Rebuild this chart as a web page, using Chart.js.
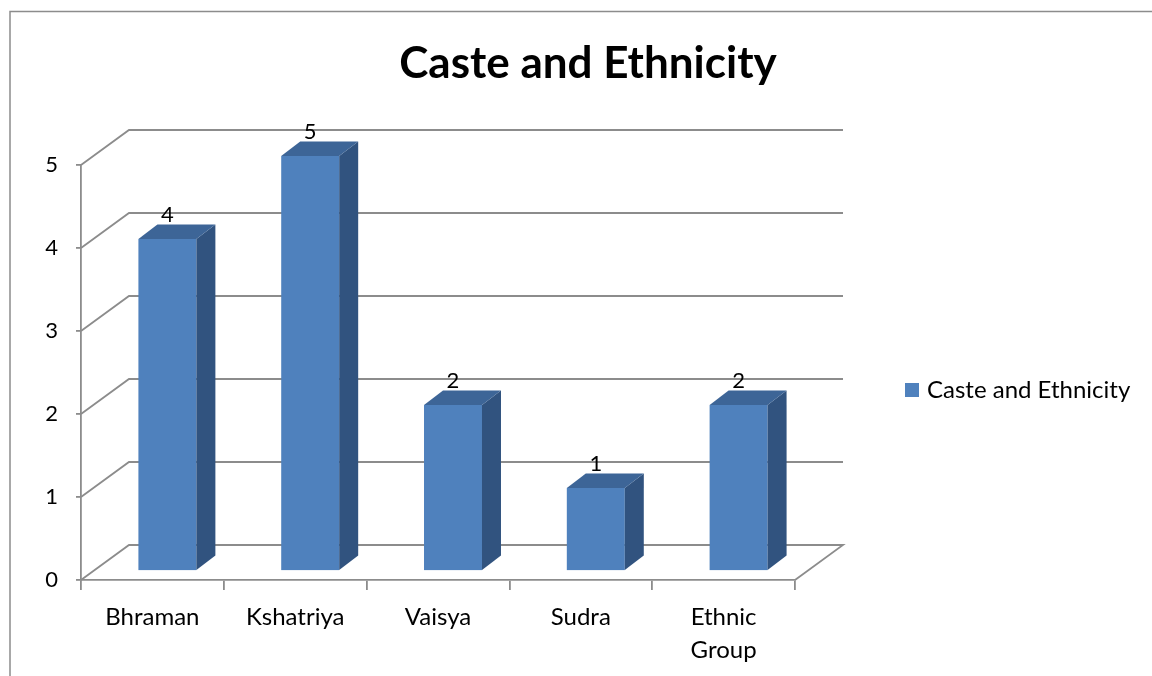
<!DOCTYPE html>
<html lang="en">
<head>
    <meta charset="UTF-8">
    <title>Caste and Ethnicity</title>
    <style>
        body { margin: 0; background: #fff; }
        .chart-container { width: 1152px; height: 676px; }
    </style>
</head>
<body>
    <div class="chart-container">
        <canvas id="casteChart" width="1152" height="676"></canvas>
    </div>

    <script src="https://cdn.jsdelivr.net/npm/chart.js"></script>
    <script>
        // Chart data
        const categories = ['Bhraman', 'Kshatriya', 'Vaisya', 'Sudra', ['Ethnic', 'Group']];
        const values = [4, 5, 2, 1, 2];
        const yTicks = [0, 1, 2, 3, 4, 5];
        const seriesName = 'Caste and Ethnicity';
        const chartTitle = 'Caste and Ethnicity';

        const fontFamily = 'Lato, "Open Sans", sans-serif';
        const lineGray = '#8c8c8c';

        // 3D offsets: back wall depth, bar front plane and bar depth
        const wallDepth = { dx: 48, dy: -35 };
        const barFront = { dx: 15, dy: -9 };
        const barDepth = { dx: 19, dy: -14.5 };

        const colors = { front: '#4f81bd', side: '#31537f', top: '#3d6597' };

        function poly(ctx, pts, fill) {
            ctx.beginPath();
            ctx.moveTo(pts[0][0], pts[0][1]);
            for (let i = 1; i < pts.length; i++) ctx.lineTo(pts[i][0], pts[i][1]);
            ctx.closePath();
            ctx.fillStyle = fill;
            ctx.fill();
        }

        const bars3d = {
            id: 'bars3d',
            beforeDraw(chart) {
                const { ctx, chartArea: a } = chart;
                const y = chart.scales.y;
                ctx.save();
                ctx.fillStyle = '#fff';
                ctx.fillRect(0, 0, chart.width, chart.height);

                // outer frame
                ctx.strokeStyle = lineGray;
                ctx.lineWidth = 1.5;
                ctx.strokeRect(10, 11.5, chart.width + 20, chart.height + 20);

                // side wall, back wall grid and floor
                ctx.lineWidth = 1.8;
                yTicks.forEach(v => {
                    const py = y.getPixelForValue(v);
                    ctx.beginPath();
                    ctx.moveTo(a.left, py);
                    ctx.lineTo(a.left + wallDepth.dx, py + wallDepth.dy);
                    ctx.lineTo(a.right + wallDepth.dx, py + wallDepth.dy);
                    if (v === 0) ctx.lineTo(a.right, py);
                    ctx.stroke();
                });
                ctx.restore();
            },
            afterDatasetsDraw(chart) {
                const ctx = chart.ctx;
                const meta = chart.getDatasetMeta(0);
                ctx.save();
                meta.data.forEach((bar, i) => {
                    const w = bar.width;
                    const x0 = bar.x - w / 2 + barFront.dx;
                    const x1 = x0 + w;
                    const yt = bar.y + barFront.dy;
                    const yb = bar.base + barFront.dy;

                    ctx.fillStyle = colors.front;
                    ctx.fillRect(x0, yt, w, yb - yt);
                    poly(ctx, [[x1, yt], [x1 + barDepth.dx, yt + barDepth.dy],
                               [x1 + barDepth.dx, yb + barDepth.dy], [x1, yb]], colors.side);
                    poly(ctx, [[x0, yt], [x0 + barDepth.dx, yt + barDepth.dy],
                               [x1 + barDepth.dx, yt + barDepth.dy], [x1, yt]], colors.top);

                    // value label
                    ctx.fillStyle = '#000';
                    ctx.font = '22px ' + fontFamily;
                    ctx.textAlign = 'center';
                    ctx.textBaseline = 'alphabetic';
                    ctx.fillText(String(values[i]), (x0 + x1) / 2, yt + barDepth.dy - 3);
                });
                ctx.restore();
            },
            afterDraw(chart) {
                const ctx = chart.ctx;
                ctx.save();
                // title
                ctx.fillStyle = '#000';
                ctx.font = 'bold 44px ' + fontFamily;
                ctx.textAlign = 'center';
                ctx.textBaseline = 'middle';
                ctx.fillText(chartTitle, 588, 64);

                // legend
                ctx.fillStyle = colors.front;
                ctx.fillRect(905, 383, 14, 14);
                ctx.fillStyle = '#000';
                ctx.font = '24px ' + fontFamily;
                ctx.textAlign = 'left';
                ctx.fillText(seriesName, 927, 390);
                ctx.restore();
            }
        };

        new Chart(document.getElementById('casteChart'), {
            type: 'bar',
            data: {
                labels: categories,
                datasets: [{
                    label: seriesName,
                    data: values,
                    backgroundColor: 'rgba(0,0,0,0)',
                    borderWidth: 0,
                    categoryPercentage: 1,
                    barPercentage: 0.406
                }]
            },
            options: {
                responsive: false,
                animation: false,
                events: [],
                layout: { padding: { top: 165, right: 357, bottom: 0, left: 0 } },
                plugins: {
                    legend: { display: false },
                    title: { display: false },
                    tooltip: { enabled: false }
                },
                scales: {
                    x: {
                        afterFit: scale => { scale.height = 96; },
                        grid: {
                            offset: true,
                            drawOnChartArea: false,
                            tickLength: 10,
                            color: lineGray,
                            lineWidth: 1.8
                        },
                        border: { color: lineGray, width: 1.8 },
                        ticks: {
                            color: '#000',
                            padding: 10,
                            font: { family: fontFamily, size: 24, lineHeight: 1.4 }
                        }
                    },
                    y: {
                        min: 0,
                        max: 5,
                        afterFit: scale => { scale.width = 81; },
                        afterBuildTicks: scale => {
                            scale.ticks = yTicks.map(v => ({ value: v }));
                        },
                        grid: {
                            drawOnChartArea: false,
                            tickLength: 5,
                            color: lineGray,
                            lineWidth: 1.8
                        },
                        border: { color: lineGray, width: 1.8 },
                        ticks: {
                            color: '#000',
                            padding: 18,
                            font: { family: fontFamily, size: 22 }
                        }
                    }
                }
            },
            plugins: [bars3d]
        });
    </script>
</body>
</html>
